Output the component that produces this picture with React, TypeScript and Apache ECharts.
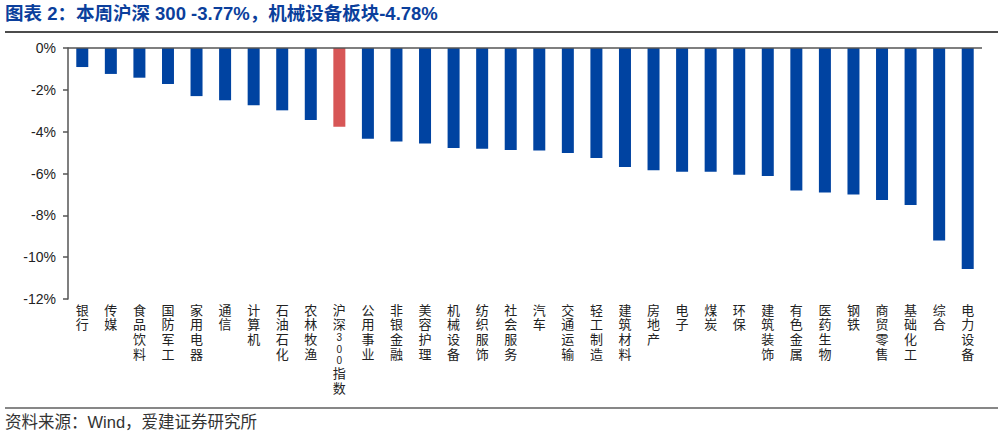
import React, { useEffect, useRef } from "react";
import * as echarts from "echarts";

const categories = [
  "银行", "传媒", "食品饮料", "国防军工", "家用电器", "通信", "计算机", "石油石化", "农林牧渔", "沪深300指数",
  "公用事业", "非银金融", "美容护理", "机械设备", "纺织服饰", "社会服务", "汽车", "交通运输", "轻工制造", "建筑材料",
  "房地产", "电子", "煤炭", "环保", "建筑装饰", "有色金属", "医药生物", "钢铁", "商贸零售", "基础化工", "综合", "电力设备",
];
const values = [
  -0.91, -1.24, -1.42, -1.72, -2.3, -2.5, -2.74, -2.98, -3.44, -3.77,
  -4.34, -4.47, -4.56, -4.78, -4.82, -4.88, -4.9, -5.02, -5.26, -5.69,
  -5.85, -5.92, -5.92, -6.06, -6.12, -6.81, -6.91, -7.0, -7.27, -7.5, -9.2, -10.57,
];
const highlight = "沪深300指数";
const yTicks = { min: -12, max: 0, interval: 2 };
const titleText = "图表 2：本周沪深 300 -3.77%，机械设备板块-4.78%";
const sourceText = "资料来源：Wind，爱建证券研究所";

const BLUE = "#0043A1";
const RED = "#D75656";
const FONT = "'Liberation Sans', 'Noto Sans CJK SC', sans-serif";
const CJK = "'Noto Sans CJK SC', 'Liberation Sans', sans-serif";

function verticalLabel(v: string): string {
  const chars = Array.from(v);
  return chars.map((c) => (/[0-9]/.test(c) ? `{d|${c}}` : `{c|${c}}`)).join("\n");
}

export default function App() {
  const ref = useRef<HTMLDivElement>(null);
  useEffect(() => {
    if (!ref.current) return;
    const chart = echarts.init(ref.current, undefined, { renderer: "svg" });
    chart.setOption({
      animation: false,
      grid: { left: 68, right: 16, top: 48, bottom: 140, containLabel: false },
      xAxis: {
        type: "category",
        data: categories,
        axisLine: { show: false, onZero: false },
        axisTick: { show: false },
        axisLabel: {
          interval: 0,
          margin: 4,
          verticalAlign: "top",
          formatter: verticalLabel,
          rich: {
            c: { fontSize: 13, lineHeight: 14.6, color: "#222", fontFamily: FONT },
            d: { fontSize: 10, lineHeight: 11.4, color: "#222", fontFamily: FONT },
          },
        },
      },
      yAxis: {
        type: "value",
        min: yTicks.min,
        max: yTicks.max,
        interval: yTicks.interval,
        splitLine: { show: false },
        axisLine: { show: true, lineStyle: { color: "#555", width: 1.5 } },
        axisTick: { show: true, length: 5, lineStyle: { color: "#555", width: 1.5 } },
        axisLabel: {
          formatter: (v: number) => `${v}%`,
          fontSize: 14,
          color: "#222",
          fontFamily: FONT,
          margin: 12,
        },
      },
      series: [
        {
          type: "bar",
          barWidth: 12,
          data: values.map((v, i) => ({
            value: v,
            itemStyle: { color: categories[i] === highlight ? RED : BLUE },
          })),
          markLine: {
            silent: true,
            symbol: "none",
            label: { show: false },
            lineStyle: { color: "#555", width: 1.5, type: "solid" },
            data: [{ yAxis: 0 }],
          },
        },
      ],
      graphic: [
        {
          type: "text",
          left: 5,
          top: 4,
          style: {
            text: titleText,
            fill: "#0B3F9C",
            font: `bold 18.5px ${FONT}`,
          },
        },
        {
          type: "line",
          shape: { x1: 5, y1: 32, x2: 998, y2: 32 },
          style: { stroke: "#111", lineWidth: 1.5 },
        },
        {
          type: "line",
          shape: { x1: 5, y1: 408, x2: 998, y2: 408 },
          style: { stroke: "#111", lineWidth: 1.2 },
        },
        {
          type: "text",
          left: 5,
          top: 414,
          style: {
            text: sourceText,
            fill: "#333",
            font: `16.5px ${FONT}`,
          },
        },
      ],
    });
    return () => chart.dispose();
  }, []);
  return (
    <div
      ref={ref}
      style={{ position: "fixed", left: 0, top: 0, width: 998, height: 439, background: "#fff" }}
    />
  );
}
